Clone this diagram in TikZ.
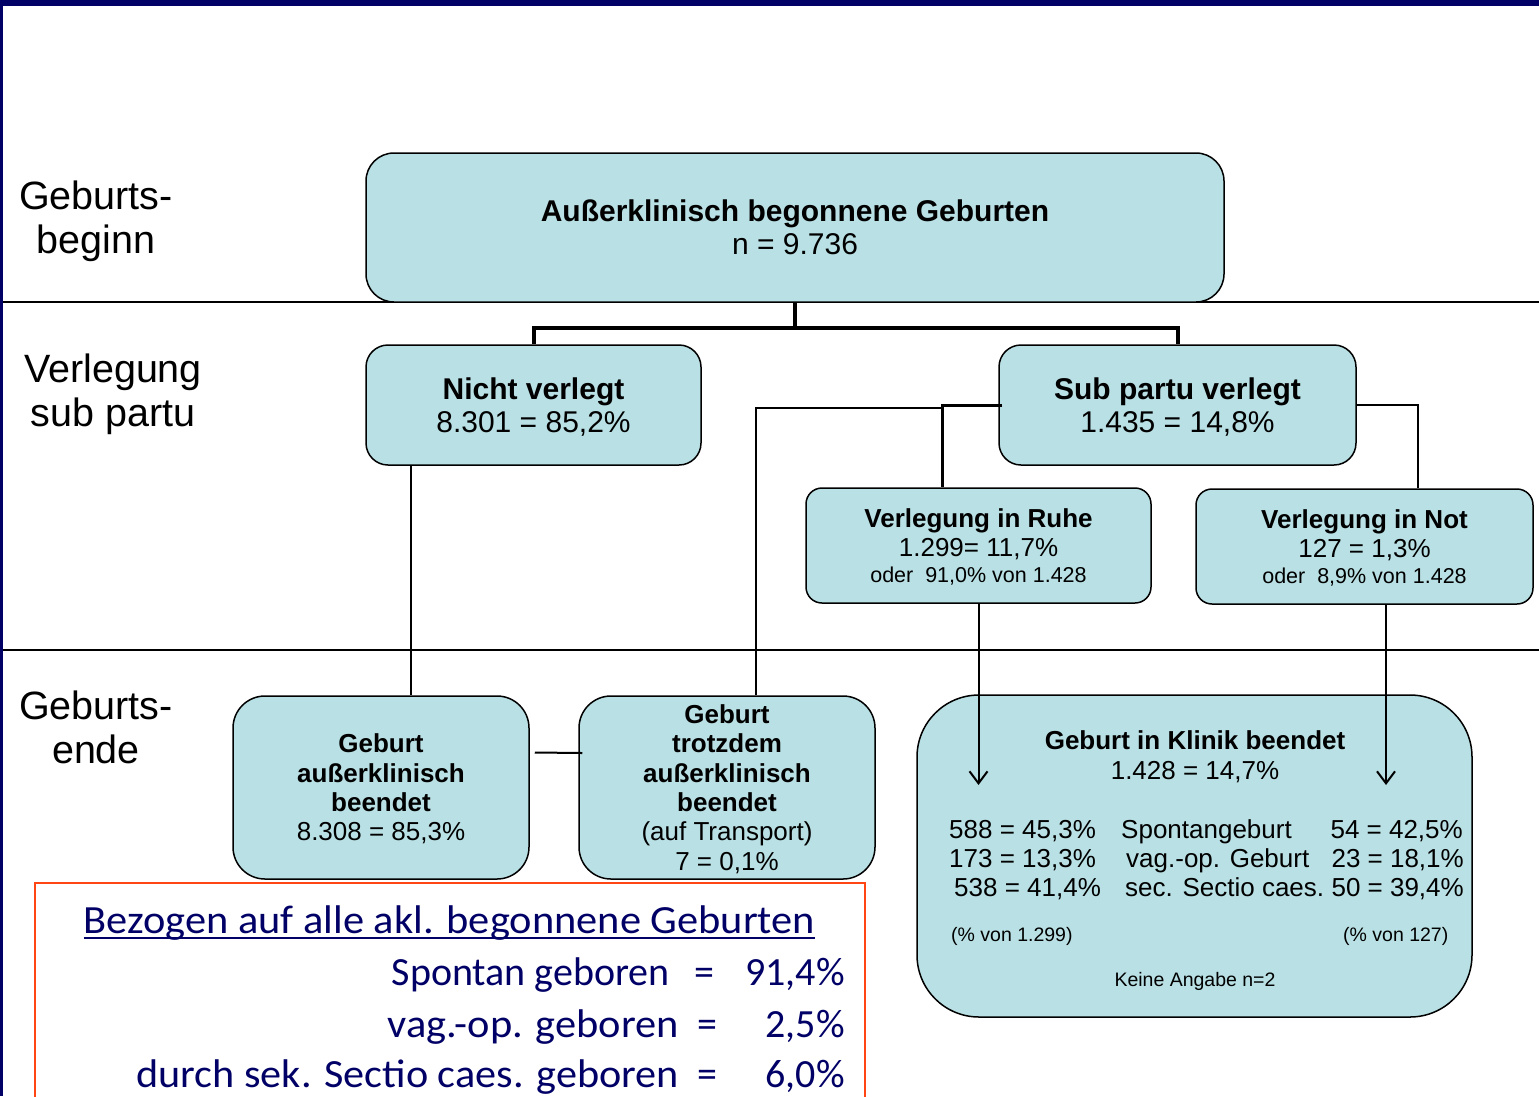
\documentclass[tikz,border=0pt]{standalone}
\usepackage{fontspec}
\setmainfont{Liberation Sans}
\newfontfamily\calib{Carlito}
\usetikzlibrary{arrows.meta,calc}
\definecolor{navy}{RGB}{0,0,102}
\definecolor{boxfill}{RGB}{185,224,228}
\definecolor{redline}{RGB}{255,69,20}
\begin{document}
\begin{tikzpicture}[x=1pt,y=-1pt,
  box/.style={draw=black,fill=boxfill,line width=1.5pt,align=center,inner sep=0pt},
  conn/.style={line width=2pt,draw=black},
  thickconn/.style={line width=4pt,draw=black},
  midconn/.style={line width=3pt,draw=black},
  arr/.style={line width=2pt,draw=black,-{Straight Barb[length=12pt,width=18pt]}},
  divider/.style={line width=1.5pt,draw=black},
  lab/.style={align=center,inner sep=0pt,font=\fontsize{39.5}{44}\selectfont},
  big/.style={font=\fontsize{30}{33.5}\selectfont},
  mid/.style={font=\fontsize{26}{29.3}\selectfont},
  tab/.style={inner sep=0pt,font=\fontsize{26}{29}\selectfont},
  small/.style={inner sep=0pt,font=\fontsize{19.5}{23}\selectfont},
  rtext/.style={inner sep=0pt,text=navy,font=\calib\fontsize{40}{51}\selectfont}]
\useasboundingbox (0,0) rectangle (1539,1096);
\clip (0,0) rectangle (1539,1096);
\fill[white] (0,0) rectangle (1539,1096);
% frame bars
\fill[navy] (0,0) rectangle (1539,6);
\fill[navy] (0,0) rectangle (3,1096);
% dividers
\draw[divider] (3,302) -- (1539,302);
\draw[divider] (3,650) -- (1539,650);
% left labels
\node[lab] (l1) at (96,221) {Geburts-\\beginn};
\node[lab] (l2) at (113,394) {Verlegung\\sub partu};
\node[lab] (l3) at (96,727) {Geburts-\\ende};
% boxes
\node[box,big,rounded corners=28pt,minimum width=858pt,minimum height=149pt] (A) at (795,227.5)
  {\textbf{Außerklinisch begonnene Geburten}\\n = 9.736};
\node[box,big,text depth=0pt,rounded corners=22pt,minimum width=335pt,minimum height=120pt] (B) at (533.5,405)
  {\textbf{Nicht verlegt}\\8.301 = 85,2\%};
\node[box,big,text depth=0pt,rounded corners=22pt,minimum width=357pt,minimum height=120pt] (C) at (1177.5,405)
  {\textbf{Sub partu verlegt}\\1.435 = 14,8\%};
\node[box,mid,text depth=-1pt,rounded corners=16pt,minimum width=345pt,minimum height=115pt] (D) at (978.5,545.5)
  {\textbf{Verlegung in Ruhe}\\1.299= 11,7\%\\[-3pt]{\fontsize{21.5}{25}\selectfont oder~~91,0\% von 1.428}};
\node[box,mid,text depth=-1pt,rounded corners=16pt,minimum width=337pt,minimum height=115pt] (E) at (1364.5,546.5)
  {\textbf{Verlegung in Not}\\127 = 1,3\%\\[-3pt]{\fontsize{21.5}{25}\selectfont oder~~8,9\% von 1.428}};
\node[box,mid,text depth=-1pt,rounded corners=32pt,minimum width=296pt,minimum height=183pt] (F) at (381,787.5)
  {\textbf{Geburt}\\\textbf{außerklinisch}\\\textbf{beendet}\\8.308 = 85,3\%};
\node[box,mid,text depth=-1pt,rounded corners=32pt,minimum width=296pt,minimum height=183pt] (G) at (727,787.5)
  {\textbf{Geburt}\\\textbf{trotzdem}\\\textbf{außerklinisch}\\\textbf{beendet}\\(auf Transport)\\7 = 0,1\%};
\node[box,rounded corners=62pt,minimum width=555pt,minimum height=322pt] (H) at (1194.5,856) {};
% Klinik contents
\node[mid,inner sep=0pt,anchor=base] (h1) at (1195,749) {\textbf{Geburt in Klinik beendet}};
\node[mid,inner sep=0pt,anchor=base] (h2) at (1195,779) {1.428 = 14,7\%};
\node[tab,anchor=base west] (r1a) at (949,838) {588 = 45,3\%};
\node[tab,anchor=base west] (r1b) at (1121,838) {Spontangeburt};
\node[tab,anchor=base east] (r1c) at (1463,838) {54 = 42,5\%};
\node[tab,anchor=base west] (r2a) at (949,867) {173 = 13,3\%};
\node[tab,anchor=base west] (r2b) at (1126,867) {vag.-op. Geburt};
\node[tab,anchor=base east] (r2c) at (1464,867) {23 = 18,1\%};
\node[tab,anchor=base west] (r3a) at (954,896) {538 = 41,4\%};
\node[tab,anchor=base west] (r3b) at (1125,896) {sec. Sectio caes.};
\node[tab,anchor=base east] (r3c) at (1464,896) {50 = 39,4\%};
\node[small,anchor=base west] (p1) at (951,941) {(\% von 1.299)};
\node[small,anchor=base west] (p2) at (1343,941) {(\% von 127)};
\node[small,anchor=base] (ka) at (1195,986) {Keine Angabe n=2};
% connectors
\draw[thickconn] (A.south) -- ++(0,25) -| (B.north);
\draw[thickconn] (A.south) -- ++(0,25) -| (C.north);
\draw[conn] ([xshift=-122.5pt]B.south) -- ([xshift=-122.5pt]B.south |- F.north);
\coordinate (j) at ([xshift=-36.5pt]D.north |- C.west);
\draw[conn] ([yshift=-3pt]j) -| ([xshift=29pt]G.north);
\draw[midconn] ([xshift=4pt]C.west) -| ([xshift=-36.5pt]D.north);
\draw[conn] (C.east) -| ([xshift=53.5pt]E.north);
\draw[conn] ([xshift=5pt,yshift=35pt]F.east) -- ([xshift=4pt,yshift=34.5pt]G.west);
\coordinate (d1) at (978.5,785);
\coordinate (e1) at (1386,785);
\draw[arr] (D.south) -- (d1);
\draw[arr] ([xshift=21.5pt]E.south) -- (e1);
% red summary box
\draw[redline,line width=2pt] (35,1100) -- (35,883) -- (865,883) -- (865,1100);
\node[rtext,anchor=base] (rt) at (449.5,933) {\addfontfeature{FakeStretch=1.06}Bezogen auf alle akl. begonnene Geburten};
\draw[navy,line width=2pt] ($(rt.base west)+(0,5)$) -- ($(rt.base east)+(0,5)$);
\node[rtext,anchor=base east] (s1) at (670,985) {Spontan geboren};
\node[rtext,anchor=base west] (s1e) at (694,985) {=};
\node[rtext,anchor=base east] (s1v) at (845,985) {91,4\%};
\node[rtext,anchor=base east] (s2) at (679,1037) {\addfontfeature{FakeStretch=1.06}vag.-op. geboren};
\node[rtext,anchor=base west] (s2e) at (697,1037) {=};
\node[rtext,anchor=base east] (s2v) at (845,1037) {2,5\%};
\node[rtext,anchor=base east] (s3) at (679,1087) {\addfontfeature{FakeStretch=1.055}durch sek. Sectio caes. geboren};
\node[rtext,anchor=base west] (s3e) at (697,1087) {=};
\node[rtext,anchor=base east] (s3v) at (845,1087) {6,0\%};
\end{tikzpicture}
\end{document}
